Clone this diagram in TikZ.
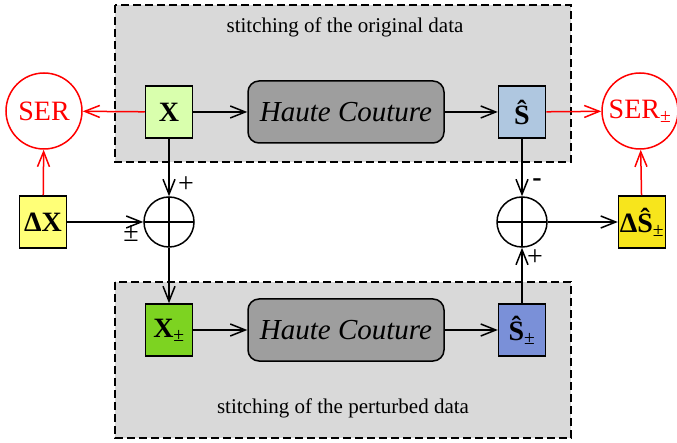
\documentclass[tikz,border=0pt]{standalone}
\usepackage{fontspec}
\setmainfont{Liberation Serif}
\usetikzlibrary{positioning, arrows.meta}

\definecolor{panelgray}{HTML}{D9D9D9}
\definecolor{hcgray}{HTML}{9E9E9E}
\definecolor{xlight}{HTML}{D9FFAD}
\definecolor{xdark}{HTML}{7DD321}
\definecolor{slight}{HTML}{AFC7E0}
\definecolor{sdark}{HTML}{7A90D8}
\definecolor{dxyellow}{HTML}{FFFF77}
\definecolor{dsyellow}{HTML}{F7E51C}

\tikzset{
  >={Straight Barb[length=15pt, width=12pt]},
  panel/.style={fill=panelgray, draw, line width=1.5pt, dash pattern=on 8pt off 4pt},
  blk/.style={draw, line width=1.5pt, minimum width=47pt, minimum height=52pt,
    inner sep=0pt, font=\fontsize{28}{28}\selectfont\bfseries},
  couture/.style={draw, line width=1.5pt, rounded corners=11pt, fill=hcgray,
    minimum width=196pt, minimum height=62pt, inner sep=0pt,
    font=\fontsize{29}{29}\selectfont\itshape},
  ser/.style={draw=red, text=red, circle, line width=1.5pt, minimum size=76pt,
    inner sep=0pt, font=\fontsize{28}{28}\selectfont},
  sumnode/.style={draw, circle, line width=1.5pt, minimum size=50pt, inner sep=0pt,
    path picture={
      \draw[line width=1.5pt] (path picture bounding box.north) -- (path picture bounding box.south);
      \draw[line width=1.5pt] (path picture bounding box.west) -- (path picture bounding box.east);
    }},
  sign/.style={font=\fontsize{28}{28}\selectfont, inner sep=0pt},
  caption/.style={font=\fontsize{21}{21}\selectfont, inner sep=0pt},
  flow/.style={->, line width=1.5pt},
  err/.style={->, line width=1.5pt, draw=red},
}

\begin{document}
\begin{tikzpicture}[x=1pt, y=-1pt]
  \useasboundingbox (0,0) rectangle (677,443);

  % the two stitching panels
  \draw[panel] (115,5) rectangle (571,162);
  \draw[panel] (115,282) rectangle (571,438);
  \node[caption] (capTop) at (345,27) {stitching of the original data};
  \node[caption] (capBot) at (343,408) {stitching of the perturbed data};

  % original chain
  \node[blk, fill=xlight] (X) at (169,112) {X};
  \node[couture, right=54pt of X] (hcTop) {Haute Couture};
  \node[blk, fill=slight, right=53pt of hcTop] (S) {Ŝ};

  % perturbed chain
  \node[blk, fill=xdark] (Xpm) at (169,330) {X\textsubscript{\mdseries ±}};
  \node[couture, right=54pt of Xpm] (hcBot) {Haute Couture};
  \node[blk, fill=sdark, right=53pt of hcBot] (Spm) {Ŝ\textsubscript{\mdseries ±}};

  % perturbation and difference
  \node[blk, fill=dxyellow] (dX) at (43,222) {ΔX};
  \node[sumnode] (sumL) at (X |- dX) {};
  \node[sumnode] (sumR) at (S |- dX) {};
  \node[blk, fill=dsyellow] (dS) at (642,222) {ΔŜ\textsubscript{\mdseries ±}};

  % symbol error rates
  \node[ser] (SER) at (44,111) {SER};
  \node[ser] (SERpm) at (640,111) {SER\textsubscript{±}};

  \draw[flow] (X) -- (hcTop);
  \draw[flow] (hcTop) -- (S);
  \draw[flow] (Xpm) -- (hcBot);
  \draw[flow] (hcBot) -- (Spm);

  \draw[flow] (X) -- (sumL.north);
  \draw[flow] (sumL.south) -- (Xpm);
  \draw[flow] (dX) -- (sumL.west);
  \draw[flow] (S) -- (sumR.north);
  \draw[flow] (Spm) -- (sumR.south);
  \draw[flow] (sumR.east) -- (dS);

  \draw[err] (X) -- (SER);
  \draw[err] (dX) -- (SER);
  \draw[err] (S) -- (SERpm);
  \draw[err] (dS) -- (SERpm);

  \node[sign] (pL) at (186,185) {+};
  \node[sign] (pmL) at (131,234) {±};
  \node[sign] (mR) at (537,183) {\textbf{-}};
  \node[sign] (pR) at (535,258) {+};
\end{tikzpicture}
\end{document}
